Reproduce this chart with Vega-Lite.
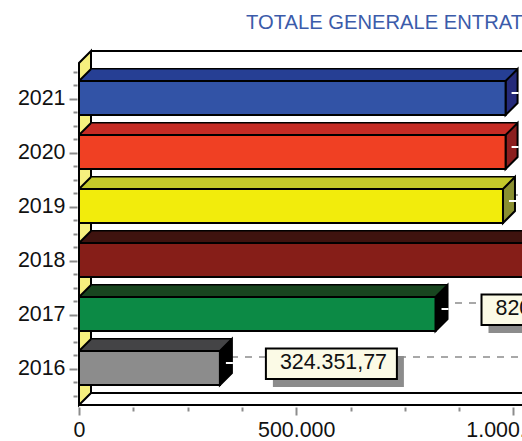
{
  "$schema": "https://vega.github.io/schema/vega-lite/v6.json",
  "autosize": "none",
  "padding": {"left": 79, "top": 45, "right": 0, "bottom": 36},
  "width": 443,
  "height": 360,
  "background": "white",
  "title": {
    "text": "TOTALE GENERALE ENTRAT",
    "anchor": "start",
    "frame": "group",
    "dx": 167,
    "offset": 12,
    "color": "#3B5BAA",
    "font": "Liberation Sans",
    "fontSize": 20.2,
    "fontWeight": "normal"
  },
  "datasets": {
    "entrate": [
      {"anno": 2016, "totale": 324351.77},
      {"anno": 2017, "totale": 820700},
      {"anno": 2018, "totale": 1100000},
      {"anno": 2019, "totale": 976000},
      {"anno": 2020, "totale": 982000},
      {"anno": 2021, "totale": 982000}
    ],
    "griglia": [{"tacca": 500000}, {"tacca": 1000000}],
    "cornice": [{"anno": 2015.3333, "tacca": 0}]
  },
  "config": {"view": {"stroke": null}},
  "encoding": {
    "x": {
      "field": "totale",
      "type": "quantitative",
      "scale": {"domain": [0, 1019797], "nice": false, "zero": false, "padding": 0},
      "axis": {
        "title": null,
        "grid": false,
        "domain": false,
        "values": [0, 125000, 250000, 375000, 500000, 625000, 750000, 875000, 1000000],
        "labelExpr": "datum.value % 500000 === 0 ? replace(format(datum.value, ','), /,/g, '.') : ''",
        "labelFont": "Liberation Sans",
        "labelFontSize": 21.4,
        "labelColor": "#111111",
        "labelBound": false,
        "labelFlush": false,
        "labelOverlap": false,
        "labelPadding": 4,
        "offset": 2,
        "tickColor": "#8c8c8c",
        "tickWidth": 2,
        "tickSize": {"condition": {"test": "datum.value % 500000 === 0", "value": 8}, "value": 4}
      }
    },
    "y": {
      "field": "anno",
      "type": "quantitative",
      "scale": {"domain": [2015.3333, 2022], "nice": false, "zero": false, "padding": 0},
      "axis": {
        "title": null,
        "grid": false,
        "domain": false,
        "values": [2015.5, 2015.75, 2016, 2016.25, 2016.5, 2016.75, 2017, 2017.25, 2017.5, 2017.75, 2018, 2018.25, 2018.5, 2018.75, 2019, 2019.25, 2019.5, 2019.75, 2020, 2020.25, 2020.5, 2020.75, 2021, 2021.25, 2021.5],
        "labelExpr": "datum.value % 1 === 0 ? format(datum.value, 'd') : ''",
        "labelFont": "Liberation Sans",
        "labelFontSize": 21.4,
        "labelColor": "#111111",
        "labelOverlap": false,
        "labelPadding": 4,
        "offset": 2,
        "tickColor": "#8c8c8c",
        "tickWidth": 2,
        "tickSize": {"condition": {"test": "datum.value % 1 === 0", "value": 8}, "value": 4}
      }
    }
  },
  "layer": [
    {
      "data": {"name": "cornice"},
      "mark": {"type": "point", "filled": false, "stroke": "black", "strokeWidth": 2, "fill": "#F6F07E", "fillOpacity": 1, "opacity": 1, "size": 4, "shape": "M0,0 L12,-12 V-354 L0,-342 Z"},
      "encoding": {"x": {"field": "tacca", "type": "quantitative"}}
    },
    {
      "data": {"name": "cornice"},
      "mark": {"type": "point", "filled": false, "stroke": "black", "strokeWidth": 2, "fill": null, "opacity": 1, "size": 4, "shape": "M0,0 H443 M12,-12 H443 M12,-354 H443"},
      "encoding": {"x": {"field": "tacca", "type": "quantitative"}}
    },
    {
      "data": {"name": "griglia"},
      "mark": {"type": "point", "filled": false, "stroke": "#8c8c8c", "strokeWidth": 1.6, "strokeDash": [7, 7], "opacity": 1, "size": 4, "shape": "M0,0 L12,-12 V-354"},
      "encoding": {
        "x": {"field": "tacca", "type": "quantitative"},
        "y": {"datum": 2015.3333, "type": "quantitative"}
      }
    },
    {
      "data": {"name": "entrate"},
      "mark": {"type": "point", "filled": false, "stroke": "#8c8c8c", "strokeWidth": 1.6, "strokeDash": [7, 7], "opacity": 1, "size": 4, "shape": "M12,-12 H443"},
      "encoding": {"x": {"datum": 0, "type": "quantitative"}}
    },
    {
      "data": {"name": "entrate"},
      "mark": {"type": "rule", "stroke": "black", "strokeWidth": 14, "xOffset": 12, "x2Offset": 12, "yOffset": -24},
      "encoding": {"x2": {"datum": 0}}
    },
    {
      "data": {"name": "entrate"},
      "mark": {"type": "rule", "strokeWidth": 11, "xOffset": 12, "x2Offset": 12, "yOffset": -24},
      "encoding": {
        "x2": {"datum": 0},
        "stroke": {
          "field": "anno", "type": "nominal", "legend": null,
          "scale": {"domain": [2016, 2017, 2018, 2019, 2020, 2021], "range": ["#444446", "#18451F", "#3F130F", "#C4C92A", "#C52B24", "#263F94"]}
        }
      }
    },
    {
      "data": {"name": "entrate"},
      "mark": {"type": "point", "filled": true, "strokeWidth": 0, "opacity": 1, "size": 4, "shape": "M0,-18 L12,-30 L12,-18 Z"},
      "encoding": {
        "x": {"datum": 0, "type": "quantitative"},
        "fill": {
          "field": "anno", "type": "nominal", "legend": null,
          "scale": {"domain": [2016, 2017, 2018, 2019, 2020, 2021], "range": ["#444446", "#18451F", "#3F130F", "#C4C92A", "#C52B24", "#263F94"]}
        }
      }
    },
    {
      "data": {"name": "entrate"},
      "mark": {"type": "point", "filled": false, "stroke": "black", "strokeWidth": 2, "opacity": 1, "size": 4, "shape": "M0,-18 L12,-30"},
      "encoding": {"x": {"datum": 0, "type": "quantitative"}}
    },
    {
      "data": {"name": "entrate"},
      "mark": {"type": "point", "filled": false, "stroke": "black", "strokeWidth": 2, "fillOpacity": 1, "opacity": 1, "size": 4, "shape": "M0,-18 L12,-30 V4 L0,16 Z"},
      "encoding": {
        "fill": {
          "field": "anno", "type": "nominal", "legend": null,
          "scale": {"domain": [2016, 2017, 2018, 2019, 2020, 2021], "range": ["#000000", "#000000", "#3A0E0A", "#8A8F30", "#8C1F1F", "#252A7A"]}
        }
      }
    },
    {
      "data": {"name": "entrate"},
      "mark": {"type": "bar", "orient": "horizontal", "size": 34, "yOffset": -1, "stroke": "black", "strokeWidth": 2},
      "encoding": {
        "x2": {"datum": 0},
        "fill": {
          "field": "anno", "type": "nominal", "legend": null,
          "scale": {"domain": [2016, 2017, 2018, 2019, 2020, 2021], "range": ["#8C8C8C", "#0C8A45", "#861E18", "#F2EC0C", "#F04023", "#3253A6"]}
        }
      }
    },
    {
      "data": {"name": "entrate"},
      "mark": {"type": "point", "filled": false, "stroke": "white", "strokeWidth": 2, "opacity": 1, "size": 4, "shape": "M6,-6 H13"}
    },
    {
      "data": {"name": "entrate"},
      "transform": [{"filter": "datum.totale < 900000"}],
      "mark": {"type": "point", "filled": true, "fill": "#8C8C8C", "strokeWidth": 0, "opacity": 1, "size": 4, "shape": "M53,-13 H184 V18 H53 Z"}
    },
    {
      "data": {"name": "entrate"},
      "transform": [{"filter": "datum.totale < 900000"}],
      "mark": {"type": "point", "filled": false, "fill": "#FBFAE6", "fillOpacity": 1, "stroke": "black", "strokeWidth": 2, "opacity": 1, "size": 4, "shape": "M46,-20.5 H177 V10 H46 Z"}
    },
    {
      "data": {"name": "entrate"},
      "transform": [
        {"filter": "datum.totale < 900000"},
        {"calculate": "replace(replace(replace(format(datum.totale, ',.2f'), /,/g, '#'), '.', ','), /#/g, '.')", "as": "etichetta"}
      ],
      "mark": {"type": "text", "align": "left", "baseline": "middle", "dx": 60, "dy": -6, "font": "Liberation Sans", "fontSize": 21.4, "color": "#111111"},
      "encoding": {"text": {"field": "etichetta", "type": "nominal"}}
    }
  ],
  "resolve": {"scale": {"fill": "independent", "stroke": "independent"}}
}
